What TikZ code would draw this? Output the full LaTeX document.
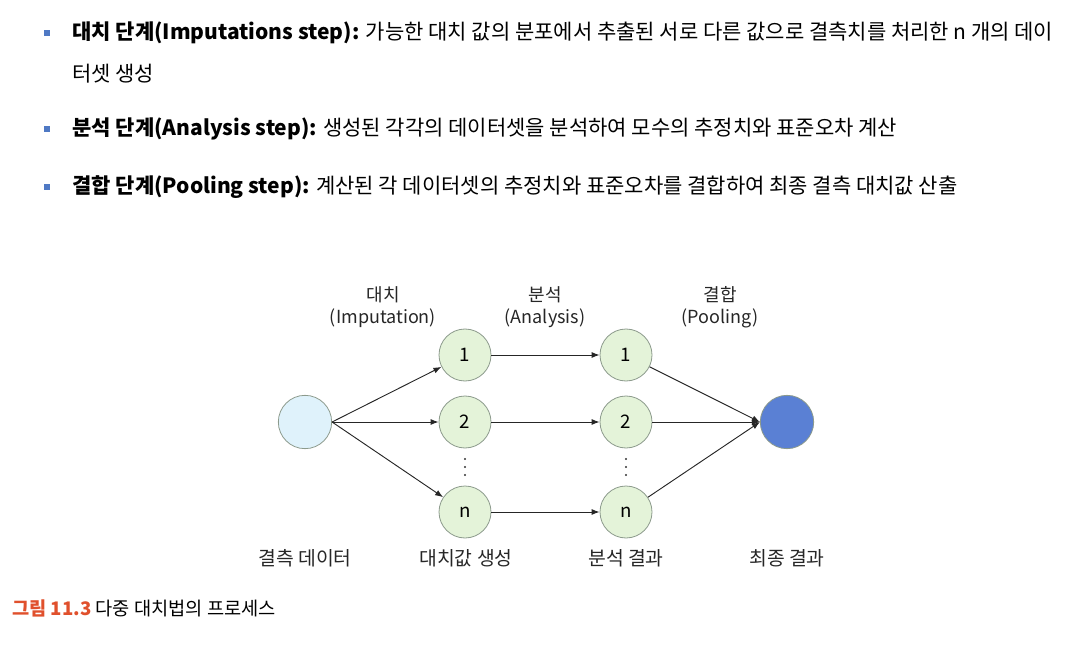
\documentclass[tikz,border=0pt]{standalone}
\usepackage{fontspec}
\setmainfont{Noto Sans CJK KR}
\usetikzlibrary{arrows.meta}
\definecolor{bul}{HTML}{4F79C4}
\definecolor{gfill}{HTML}{E4F3D9}
\definecolor{bfill}{HTML}{DFF2FB}
\definecolor{dfill}{HTML}{5A80D4}
\definecolor{ring}{HTML}{8C9A8C}
\definecolor{capred}{HTML}{E0502C}
\tikzset{
  txt/.style={anchor=west,inner sep=0pt,font=\fontsize{15.75}{18}\selectfont},
  lbl/.style={inner sep=0pt,font=\fontsize{13.5}{15}\selectfont,text=black!85},
  blbl/.style={inner sep=0pt,font=\fontsize{14.5}{16}\selectfont,text=black!85},
  gnode/.style={circle,draw=ring,line width=0.6pt,fill=gfill,minimum size=39pt,inner sep=0pt,font=\fontsize{14}{16}\selectfont},
  bnode/.style={circle,draw=ring,line width=0.6pt,minimum size=40pt,inner sep=0pt},
  conn/.style={draw=black!85,line width=0.7pt,-{Latex[length=6pt,width=4.5pt]}},
  bullet/.style={fill=bul,minimum size=4pt,inner sep=0pt},
  dotc/.style={circle,fill=black!80,minimum size=1.6pt,inner sep=0pt}
}
\begin{document}
\begin{tikzpicture}[x=0.75pt,y=-0.75pt]
\useasboundingbox (0,0) rectangle (1084,648);
% bullets and text
\node[bullet] (b1) at (47,33) {};
\node[bullet] (b2) at (47,129) {};
\node[bullet] (b3) at (47,187) {};
\node[txt] (t1) at (72,33) {\textbf{대치 단계(Imputations step):} 가능한 대치 값의 분포에서 추출된 서로 다른 값으로 결측치를 처리한 n 개의 데이};
\node[txt] (t1b) at (72,74) {터셋 생성};
\node[txt] (t2) at (72,129) {\textbf{분석 단계(Analysis step):} 생성된 각각의 데이터셋을 분석하여 모수의 추정치와 표준오차 계산};
\node[txt] (t3) at (72,187) {\textbf{결합 단계(Pooling step):} 계산된 각 데이터셋의 추정치와 표준오차를 결합하여 최종 결측 대치값 산출};
% diagram nodes
\node[bnode,fill=bfill] (m) at (305,422) {};
\node[gnode] (i1) at (465,355) {1};
\node[gnode] (i2) at (465,422) {2};
\node[gnode] (in) at (465,512) {n};
\node[gnode] (a1) at (626,355) {1};
\node[gnode] (a2) at (626,422) {2};
\node[gnode] (an) at (626,512) {n};
\node[bnode,fill=dfill] (f) at (787,422) {};
\foreach \x/\n in {465/p,626/q}{
  \node[dotc] (\n1) at (\x,459) {};
  \node[dotc] (\n2) at (\x,467) {};
  \node[dotc] (\n3) at (\x,475) {};
}
% connectors
\draw[conn] (m.east) -- (i1);
\draw[conn] (m.east) -- (i2);
\draw[conn] (m.east) -- (in);
\draw[conn] (i1) -- (a1);
\draw[conn] (i2) -- (a2);
\draw[conn] (in) -- (an);
\draw[conn] (a1) -- (f.west);
\draw[conn] (a2) -- (f.west);
\draw[conn] (an) -- (f.west);
% labels
\node[lbl] (l1) at (383,295) {대치};
\node[lbl] (l1b) at (383,318) {(Imputation)};
\node[lbl] (l2) at (545,295) {분석};
\node[lbl] (l2b) at (545,318) {(Analysis)};
\node[lbl] (l3) at (720,295) {결합};
\node[lbl] (l3b) at (720,318) {(Pooling)};
\node[blbl] (bl1) at (305,558) {결측 데이터};
\node[blbl] (bl2) at (466,558) {대치값 생성};
\node[blbl] (bl3) at (626,558) {분석 결과};
\node[blbl] (bl4) at (787,558) {최종 결과};
% caption
\node[anchor=west,inner sep=0pt,font=\fontsize{14}{16}\selectfont] (cap) at (12,608) {\textcolor{capred}{\textbf{그림 11.3}} 다중 대치법의 프로세스};
\end{tikzpicture}
\end{document}
